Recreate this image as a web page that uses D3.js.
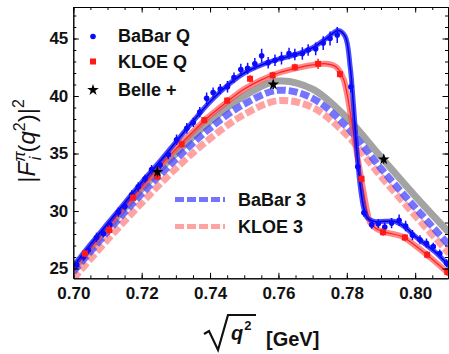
<!DOCTYPE html>
<html>
<head>
<meta charset="utf-8">
<script src="https://cdn.jsdelivr.net/npm/d3@7"></script>
<style>
  body { margin: 0; background: #fff; }
  text { font-family: "Liberation Sans", Arial, sans-serif; }
</style>
</head>
<body>
<div id="chart"></div>
<script>
var w = 449, h = 354;

// smooth model bands, sampled on a grid
var gridX = [0.70, 0.71, 0.72, 0.73, 0.74, 0.75, 0.76, 0.77, 0.78, 0.79, 0.80, 0.81];
var belleBand = [24.9, 28.5, 31.9, 35.0, 37.8, 40.0, 41.3, 40.6, 38.1, 34.7, 31.3, 28.1];
var babar3 = [24.7, 28.2, 31.5, 34.5, 37.2, 39.3, 40.5, 39.8, 37.3, 33.7, 30.3, 27.0];
var kloe3 = [24.1, 27.5, 30.7, 33.7, 36.3, 38.4, 39.6, 39.0, 36.6, 33.0, 29.6, 26.3];

// rho-omega curves (denser near the drop)
var babarQx = [0.700, 0.705, 0.710, 0.715, 0.720, 0.725, 0.730, 0.735, 0.740, 0.745, 0.750, 0.755, 0.760, 0.765, 0.770, 0.774, 0.7775, 0.7795, 0.781, 0.782, 0.783, 0.784, 0.785, 0.786, 0.788, 0.791, 0.794, 0.797, 0.800, 0.803, 0.806, 0.810];
var babarQy = [25.2, 27.1, 28.9, 30.7, 32.5, 34.2, 36.0, 37.8, 39.5, 40.9, 42.0, 42.7, 43.2, 43.6, 44.2, 45.0, 45.7, 45.2, 42.5, 39.0, 35.0, 32.0, 30.2, 29.4, 29.1, 29.1, 29.1, 28.6, 27.8, 27.1, 26.4, 25.2];
var kloeQx = [0.700, 0.705, 0.710, 0.715, 0.720, 0.725, 0.730, 0.735, 0.740, 0.745, 0.750, 0.755, 0.760, 0.765, 0.770, 0.774, 0.777, 0.779, 0.780, 0.781, 0.782, 0.783, 0.784, 0.785, 0.786, 0.787, 0.789, 0.792, 0.796, 0.800, 0.805, 0.810];
var kloeQy = [25.0, 26.8, 28.6, 30.4, 32.1, 33.8, 35.4, 36.9, 38.3, 39.5, 40.6, 41.4, 42.0, 42.4, 42.7, 42.8, 42.5, 41.5, 40.3, 38.6, 36.7, 34.9, 33.2, 31.5, 29.9, 28.9, 28.4, 28.1, 27.8, 27.0, 25.8, 24.5];

// data points
var babarPx = [0.7010, 0.7030, 0.7044, 0.7068, 0.7088, 0.7107, 0.7132, 0.7151, 0.7171, 0.7190, 0.7210, 0.7229, 0.7254, 0.7278, 0.7302, 0.7332, 0.7351, 0.7370, 0.7390, 0.7409, 0.7430, 0.7451, 0.7470, 0.7490, 0.7510, 0.7531, 0.7551, 0.7570, 0.7590, 0.7609, 0.7631, 0.7648, 0.7670, 0.7687, 0.7709, 0.7731, 0.7751, 0.7772, 0.7812, 0.7832, 0.7850, 0.7873, 0.7892, 0.7911, 0.7931, 0.7953, 0.7972, 0.7992, 0.8014, 0.8033, 0.8053, 0.8072, 0.8092];
var babarPy = [25.3, 26.0, 26.6, 27.7, 28.05, 28.8, 29.9, 30.4, 31.4, 32.1, 32.8, 33.6, 34.0, 34.9, 36.2, 37.2, 37.7, 38.6, 39.8, 40.3, 40.6, 40.8, 41.6, 42.3, 42.4, 42.8, 43.5, 42.9, 43.1, 43.3, 43.7, 43.6, 43.7, 44.0, 44.1, 44.6, 45.0, 45.3, 40.8, 33.85, 29.85, 28.8, 28.9, 28.6, 28.95, 29.2, 28.7, 27.9, 27.5, 27.2, 26.9, 26.3, 25.45];
var babarErr = [0.35, 0.35, 0.35, 0.4, 0.35, 0.4, 0.4, 0.35, 0.4, 0.4, 0.35, 0.4, 0.4, 0.4, 0.45, 0.45, 0.4, 0.45, 0.5, 0.45, 0.45, 0.5, 0.45, 0.5, 0.5, 0.5, 0.6, 0.5, 0.5, 0.55, 0.5, 0.5, 0.55, 0.5, 0.55, 0.6, 0.6, 0.7, 0.5, 0.4, 0.35, 0.35, 0.4, 0.4, 0.45, 0.5, 0.45, 0.45, 0.4, 0.4, 0.35, 0.35, 0.35];

var kloePx = [0.7034, 0.7105, 0.7175, 0.7246, 0.7317, 0.7383, 0.7450, 0.7517, 0.7583, 0.7648, 0.7716, 0.7780, 0.7843, 0.7906, 0.7970, 0.8035, 0.8094];
var kloePy = [26.3, 28.35, 31.15, 33.0, 35.8, 37.9, 39.6, 41.5, 41.8, 42.5, 42.8, 41.9, 32.8, 28.15, 27.7, 26.2, 24.7];
var kloeErr = [0.3, 0.4, 0.3, 0.3, 0.3, 0.3, 0.3, 0.3, 0.3, 0.3, 0.45, 0.3, 0.3, 0.3, 0.3, 0.3, 0.3];

var bellePx = [0.7246, 0.7585, 0.7908];
var bellePy = [33.4, 41.0, 34.5];
var belleErr = [0.4, 0.4, 0.4];

var xTicks = [0.70, 0.72, 0.74, 0.76, 0.78, 0.80];
var xTickLabels = ["0.70", "0.72", "0.74", "0.76", "0.78", "0.80"];
var yTicks = [25, 30, 35, 40, 45];

var x = d3.scaleLinear().domain([0.70, 0.8096]).range([73.3, 448]);
var y = d3.scaleLinear().domain([24.15, 47.74]).range([278.3, 7]);

var svg = d3.select("#chart").append("svg").attr("width", w).attr("height", h);

svg.append("defs").append("clipPath").attr("id", "clip")
  .append("rect").attr("x", x.range()[0]).attr("y", y.range()[1])
  .attr("width", x.range()[1] - x.range()[0]).attr("height", y.range()[0] - y.range()[1]);

var plot = svg.append("g").attr("clip-path", "url(#clip)");

var line = d3.line().curve(d3.curveCatmullRom.alpha(0.5))
  .x(function(d) { return x(d[0]); }).y(function(d) { return y(d[1]); });

function pairs(xs, ys) { return xs.map(function(v, i) { return [v, ys[i]]; }); }

// gray Belle band
plot.append("path").attr("d", line(pairs(gridX, belleBand)))
  .attr("fill", "none").attr("stroke", "#a3a3a3").attr("stroke-width", 7);

// dashed bands
plot.append("path").attr("d", line(pairs(gridX, kloe3)))
  .attr("fill", "none").attr("stroke", "#ff7a7a").attr("stroke-opacity", 0.7)
  .attr("stroke-width", 7).attr("stroke-dasharray", "9,3");
plot.append("path").attr("d", line(pairs(gridX, babar3)))
  .attr("fill", "none").attr("stroke", "#4646ff").attr("stroke-opacity", 0.75)
  .attr("stroke-width", 7).attr("stroke-dasharray", "9,3");

// KLOE Q band
plot.append("path").attr("d", line(pairs(kloeQx, kloeQy)))
  .attr("fill", "none").attr("stroke", "#ff4a4a").attr("stroke-opacity", 0.65).attr("stroke-width", 6);
plot.append("path").attr("d", line(pairs(kloeQx, kloeQy)))
  .attr("fill", "none").attr("stroke", "#ff2020").attr("stroke-width", 1.2);

// BaBar Q band
plot.append("path").attr("d", line(pairs(babarQx, babarQy)))
  .attr("fill", "none").attr("stroke", "#1e1eff").attr("stroke-opacity", 0.8).attr("stroke-width", 5);
plot.append("path").attr("d", line(pairs(babarQx, babarQy)))
  .attr("fill", "none").attr("stroke", "#0000e0").attr("stroke-width", 1.5);

// BaBar points
var bab = plot.append("g");
babarPx.forEach(function(v, i) {
  bab.append("line").attr("x1", x(v)).attr("x2", x(v))
    .attr("y1", y(babarPy[i] - babarErr[i])).attr("y2", y(babarPy[i] + babarErr[i]))
    .attr("stroke", "#1010ff").attr("stroke-width", 1.5);
  bab.append("circle").attr("cx", x(v)).attr("cy", y(babarPy[i])).attr("r", 2.8).attr("fill", "#0a0aff");
});

// KLOE points
var klo = plot.append("g");
kloePx.forEach(function(v, i) {
  klo.append("line").attr("x1", x(v)).attr("x2", x(v))
    .attr("y1", y(kloePy[i] - kloeErr[i])).attr("y2", y(kloePy[i] + kloeErr[i]))
    .attr("stroke", "#ff2020").attr("stroke-width", 1.5);
  klo.append("rect").attr("x", x(v) - 3).attr("y", y(kloePy[i]) - 3)
    .attr("width", 6).attr("height", 6).attr("fill", "#ff1a1a");
});

// Belle points
var star = d3.symbol().type(d3.symbolStar).size(42);
var bel = plot.append("g");
bellePx.forEach(function(v, i) {
  bel.append("line").attr("x1", x(v)).attr("x2", x(v))
    .attr("y1", y(bellePy[i] - belleErr[i])).attr("y2", y(bellePy[i] + belleErr[i]))
    .attr("stroke", "#000").attr("stroke-width", 1.2);
  bel.append("path").attr("d", star()).attr("transform", "translate(" + x(v) + "," + y(bellePy[i]) + ")")
    .attr("fill", "#000");
});

// axes: frame with inward ticks on all sides
var xMinor = d3.range(0.70, 0.8096, 0.005);
var yMinor = d3.range(25, 48, 1);
var x0 = x.range()[0], x1 = x.range()[1], y0 = y.range()[0], y1 = y.range()[1];

function styleAxis(g) {
  g.selectAll("path.domain").attr("stroke", "#000").attr("stroke-width", 1);
  g.selectAll("line").attr("stroke", "#000").attr("stroke-width", 1);
  g.selectAll("text").attr("font-size", 17).attr("font-weight", "bold").attr("fill", "#111")
    .attr("font-family", "'Liberation Sans', Arial, sans-serif");
}

svg.append("g").attr("transform", "translate(0," + y0 + ")")
  .call(d3.axisBottom(x).tickValues(xMinor).tickSize(-3).tickSizeOuter(0).tickFormat(""))
  .call(styleAxis);
svg.append("g").attr("transform", "translate(0," + y0 + ")")
  .call(d3.axisBottom(x).tickValues(xTicks).tickSize(-5.5).tickSizeOuter(0).tickPadding(9)
    .tickFormat(function(d, i) { return xTickLabels[i]; }))
  .call(styleAxis);
svg.append("g").attr("transform", "translate(0," + y1 + ")")
  .call(d3.axisTop(x).tickValues(xMinor).tickSize(-3).tickSizeOuter(0).tickFormat(""))
  .call(styleAxis);
svg.append("g").attr("transform", "translate(0," + y1 + ")")
  .call(d3.axisTop(x).tickValues(xTicks).tickSize(-5.5).tickSizeOuter(0).tickFormat(""))
  .call(styleAxis);

svg.append("g").attr("transform", "translate(" + x0 + ",0)")
  .call(d3.axisLeft(y).tickValues(yMinor).tickSize(-3).tickSizeOuter(0).tickFormat(""))
  .call(styleAxis);
svg.append("g").attr("transform", "translate(" + x0 + ",0)")
  .call(d3.axisLeft(y).tickValues(yTicks).tickSize(-5.5).tickSizeOuter(0).tickPadding(5))
  .call(styleAxis);
svg.append("g").attr("transform", "translate(" + x1 + ",0)")
  .call(d3.axisRight(y).tickValues(yMinor).tickSize(-3).tickSizeOuter(0).tickFormat(""))
  .call(styleAxis);
svg.append("g").attr("transform", "translate(" + x1 + ",0)")
  .call(d3.axisRight(y).tickValues(yTicks).tickSize(-5.5).tickSizeOuter(0).tickFormat(""))
  .call(styleAxis);

// legend, top left
var leg = svg.append("g").attr("font-weight", "bold").attr("font-size", 18).attr("fill", "#111");
leg.append("circle").attr("cx", 93).attr("cy", 36.5).attr("r", 2.8).attr("fill", "#0a0aff");
leg.append("text").attr("x", 118).attr("y", 41.5).text("BaBar Q");
leg.append("rect").attr("x", 90).attr("y", 58.5).attr("width", 6).attr("height", 6).attr("fill", "#ff1a1a");
leg.append("text").attr("x", 118).attr("y", 67.5).text("KLOE Q");
leg.append("path").attr("d", d3.symbol().type(d3.symbolStar).size(42)())
  .attr("transform", "translate(93,90)").attr("fill", "#000");
leg.append("text").attr("x", 118).attr("y", 95.5).text("Belle +");

// legend, middle
var leg2 = svg.append("g").attr("font-weight", "bold").attr("font-size", 18).attr("fill", "#111");
leg2.append("line").attr("x1", 175).attr("x2", 225).attr("y1", 199.5).attr("y2", 199.5)
  .attr("stroke", "#4646ff").attr("stroke-opacity", 0.75).attr("stroke-width", 5).attr("stroke-dasharray", "9,3");
leg2.append("text").attr("x", 238).attr("y", 205.5).text("BaBar 3");
leg2.append("line").attr("x1", 175).attr("x2", 225).attr("y1", 226.5).attr("y2", 226.5)
  .attr("stroke", "#ff7a7a").attr("stroke-opacity", 0.7).attr("stroke-width", 5).attr("stroke-dasharray", "9,3");
leg2.append("text").attr("x", 238).attr("y", 232.5).text("KLOE 3");

// y label |F_i^pi(q^2)|^2
var yl = svg.append("text").attr("transform", "translate(35,141) rotate(-90)")
  .attr("text-anchor", "middle").attr("font-size", 24).attr("fill", "#111");
yl.append("tspan").text("|");
yl.append("tspan").attr("font-style", "italic").text("F");
yl.append("tspan").attr("font-style", "italic").attr("font-size", 16).attr("dy", -10).text("π");
yl.append("tspan").attr("font-style", "italic").attr("font-size", 16).attr("dx", -9).attr("dy", 16).text("i");
yl.append("tspan").attr("dy", -6).attr("dx", 4).text("(");
yl.append("tspan").attr("font-style", "italic").text("q");
yl.append("tspan").attr("font-size", 16).attr("dy", -10).text("2");
yl.append("tspan").attr("dy", 10).text(")|");
yl.append("tspan").attr("font-size", 16).attr("dy", -11).text("2");

// x label sqrt(q^2) [GeV]
svg.append("path").attr("d", "M204,334 L209,331 L218,350 L228,315 L256,315")
  .attr("fill", "none").attr("stroke", "#111").attr("stroke-width", 2.2).attr("stroke-linejoin", "miter");
var xl = svg.append("text").attr("x", 231).attr("y", 340).attr("font-size", 20)
  .attr("font-weight", "bold").attr("fill", "#111");
xl.append("tspan").attr("font-style", "italic").text("q");
xl.append("tspan").attr("font-size", 13).attr("dy", -10).attr("dx", 1).text("2");
svg.append("text").attr("x", 266).attr("y", 346).attr("font-size", 20)
  .attr("font-weight", "bold").attr("fill", "#111").text("[GeV]");
</script>
</body>
</html>
